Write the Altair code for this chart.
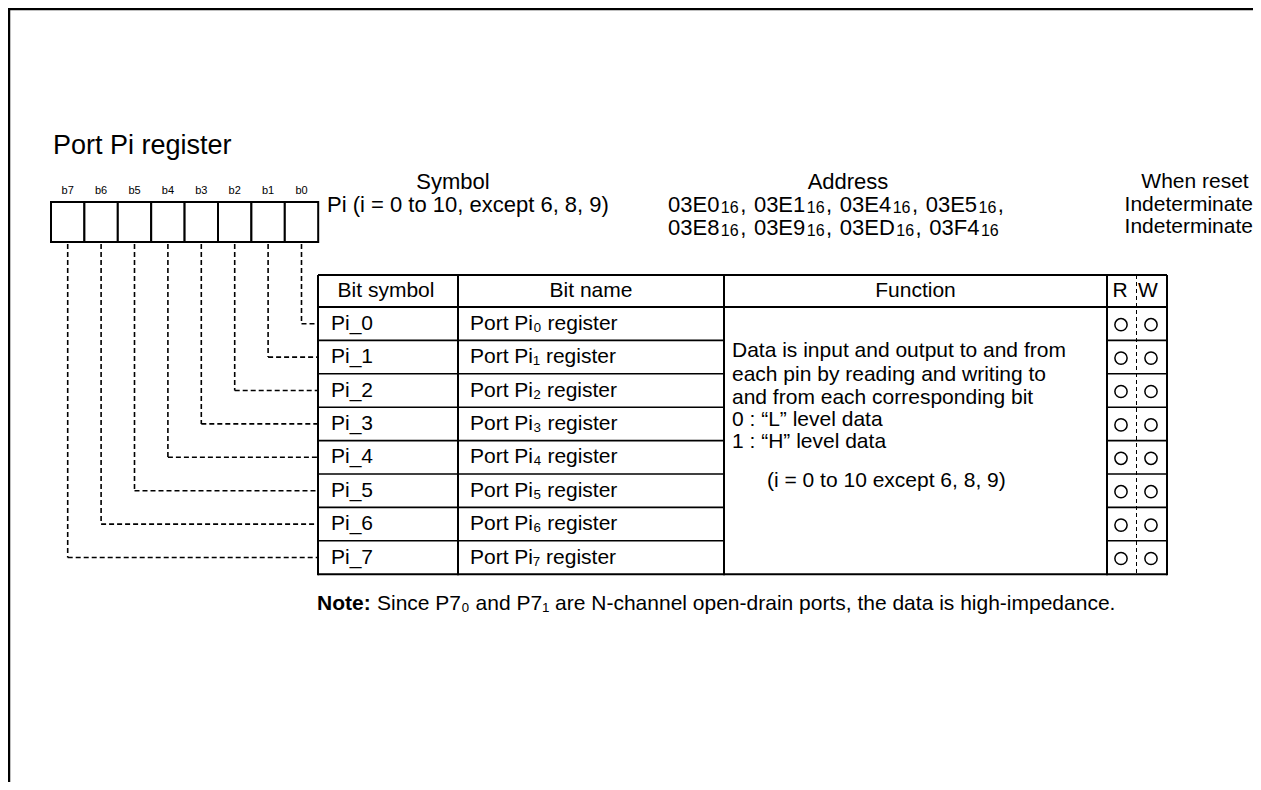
import altair as alt
import pandas as pd

# ---------------- content ----------------
TITLE = "Port Pi register"
BITS = ["b7", "b6", "b5", "b4", "b3", "b2", "b1", "b0"]
SYMBOL_LABEL = "Symbol"
SYMBOL_VALUE = "Pi (i = 0 to 10, except 6, 8, 9)"
ADDRESS_LABEL = "Address"
ADDRESS_LINE1 = ["03E0", "03E1", "03E4", "03E5"]
ADDRESS_LINE2 = ["03E8", "03E9", "03ED", "03F4"]
ADDRESS_SUFFIX = "16"
RESET_LABEL = "When reset"
RESET_VALUES = ["Indeterminate", "Indeterminate"]
HEADERS = ["Bit symbol", "Bit name", "Function", "R", "W"]
BIT_SYMBOLS = ["Pi_0", "Pi_1", "Pi_2", "Pi_3", "Pi_4", "Pi_5", "Pi_6", "Pi_7"]
BIT_NAMES = ["Port Pi₀ register", "Port Pi₁ register", "Port Pi₂ register", "Port Pi₃ register",
             "Port Pi₄ register", "Port Pi₅ register", "Port Pi₆ register", "Port Pi₇ register"]
FUNCTION_LINES = ["Data is input and output to and from",
                  "each pin by reading and writing to",
                  "and from each corresponding bit",
                  "0 : \u201cL\u201d level data",
                  "1 : \u201cH\u201d level data"]
FUNCTION_NOTE = "(i = 0 to 10 except 6, 8, 9)"
READABLE = [True, True, True, True, True, True, True, True]
WRITABLE = [True, True, True, True, True, True, True, True]
NOTE_BOLD = "Note:"
NOTE_TEXT = "Since P7₀ and P7₁ are N-channel open-drain ports, the data is high-impedance."

# ---------------- layout ----------------
W, H = 1245, 774
X0, Y0 = 8, 8
FONT = "Liberation Sans"
HEAD_SIZE = 22
SUB_SIZE = 16
GAP = 1.5

BOX_L, BOX_W, BOX_T, BOX_B = 51, 33.4, 202, 242
COLS = [318, 458, 724, 1107, 1136.5, 1167]
TAB_T, HEAD_B, ROW_H = 275, 307, 33.4
N = len(BIT_SYMBOLS)
TAB_B = HEAD_B + N * ROW_H

# Arial / Liberation Sans advance widths (per 1000 em) for address layout
ADV = {"0": 556, "1": 556, "2": 556, "3": 556, "4": 556, "5": 556, "6": 556,
       "7": 556, "8": 556, "9": 556, "E": 667, "D": 722, "F": 611, ",": 278, " ": 278}


def tw(s, size):
    return sum(ADV[c] for c in s) / 1000 * size


xs = alt.Scale(domain=[X0, X0 + W], nice=False, zero=False)
ys = alt.Scale(domain=[Y0, Y0 + H], nice=False, zero=False, reverse=True)


def XQ(f="x"):
    return alt.X(f + ":Q", scale=xs, axis=None)


def YQ(f="y"):
    return alt.Y(f + ":Q", scale=ys, axis=None)


def text_layer(rows, size, align="left", weight="normal", baseline="middle"):
    df = pd.DataFrame(rows, columns=["x", "y", "text"])
    return alt.Chart(df).mark_text(
        font=FONT, fontSize=size, align=align, baseline=baseline,
        fontWeight=weight, color="black"
    ).encode(x=XQ(), y=YQ(), text="text:N")


def line_layer(rows, width=2.0, dash=None):
    df = pd.DataFrame(rows, columns=["x", "y", "x2", "y2"])
    kw = dict(color="black", strokeWidth=width)
    if dash:
        kw["strokeDash"] = dash
    return alt.Chart(df).mark_rule(**kw).encode(
        x=XQ(), y=YQ(), x2="x2:Q", y2="y2:Q")


layers = []

# outer frame (top and left edge)
layers.append(line_layer([(X0, 9, X0 + W, 9), (9, Y0, 9, Y0 + H)], width=2.5))

# bit boxes
box_df = pd.DataFrame({
    "bit": BITS,
    "x": [BOX_L + i * BOX_W for i in range(len(BITS))],
    "x2": [BOX_L + (i + 1) * BOX_W for i in range(len(BITS))],
    "y": [BOX_T] * len(BITS),
    "y2": [BOX_B] * len(BITS),
})
layers.append(alt.Chart(box_df).mark_rect(fill="white", stroke="black", strokeWidth=2).encode(
    x=XQ(), x2="x2:Q", y=YQ(), y2="y2:Q"))

layers.append(text_layer([(BOX_L + (i + 0.5) * BOX_W, 191, b) for i, b in enumerate(BITS)], 11, "center"))

# dashed leaders from each bit to its row
lead = []
for k in range(N):
    bx = BOX_L + (len(BITS) - 1 - k + 0.5) * BOX_W
    ry = HEAD_B + (k + 0.5) * ROW_H
    lead.append((bx, BOX_B + 2, bx, ry))
    lead.append((bx, ry, COLS[0], ry))
layers.append(line_layer(lead, width=1.6, dash=[5, 3]))

# table lines
tab = [
    (COLS[0], TAB_T, COLS[-1], TAB_T),
    (COLS[0], HEAD_B, COLS[-1], HEAD_B),
    (COLS[0], TAB_B, COLS[-1], TAB_B),
]
for c in [COLS[0], COLS[1], COLS[2], COLS[3], COLS[5]]:
    tab.append((c, TAB_T, c, TAB_B + 1))
layers.append(line_layer(tab, width=2.0))
rows_l = []
for k in range(1, N):
    yy = HEAD_B + k * ROW_H
    rows_l.append((COLS[0], yy, COLS[2], yy))
    rows_l.append((COLS[3], yy, COLS[5], yy))
layers.append(line_layer(rows_l, width=1.6))
layers.append(line_layer([(COLS[4], TAB_T, COLS[4], TAB_B)], width=1.0, dash=[4, 3]))

# title and register header texts
layers.append(text_layer([(53, 146, TITLE)], 27))
layers.append(text_layer([(453, 182, SYMBOL_LABEL), (848, 182, ADDRESS_LABEL)], HEAD_SIZE, "center"))
layers.append(text_layer([(1195, 182, RESET_LABEL)], 21, "center"))
layers.append(text_layer([(327, 205, SYMBOL_VALUE)], HEAD_SIZE))
layers.append(text_layer([(1253, 205, RESET_VALUES[0]), (1253, 227, RESET_VALUES[1])], 21, "right"))

# address lines: codes with smaller "16" suffix
main_rows, sub_rows = [], []
for codes, base, last_sep in [(ADDRESS_LINE1, 212, ","), (ADDRESS_LINE2, 235, "")]:
    x = 668
    for j, code in enumerate(codes):
        sep = ", " if j < len(codes) - 1 else last_sep
        main_rows.append((x, base, code))
        x += tw(code, HEAD_SIZE) + GAP
        sub_rows.append((x, base + 1, ADDRESS_SUFFIX))
        x += tw(ADDRESS_SUFFIX, SUB_SIZE) + GAP
        if sep:
            main_rows.append((x, base, sep))
            x += tw(sep, HEAD_SIZE) + GAP
layers.append(text_layer(main_rows, HEAD_SIZE, baseline="alphabetic"))
layers.append(text_layer(sub_rows, SUB_SIZE, baseline="alphabetic"))

# table header
hx = [386, (COLS[1] + COLS[2]) / 2, (COLS[2] + COLS[3]) / 2, 1120, 1148]
layers.append(text_layer([(hx[i], 291, h) for i, h in enumerate(HEADERS)], 21, "center"))

# table rows
layers.append(text_layer([(331, HEAD_B + (k + 0.5) * ROW_H, s) for k, s in enumerate(BIT_SYMBOLS)], 21))
layers.append(text_layer([(470, HEAD_B + (k + 0.5) * ROW_H, s) for k, s in enumerate(BIT_NAMES)], 21))
fy = [351, 375, 398, 420, 442]
layers.append(text_layer([(732, fy[i], t) for i, t in enumerate(FUNCTION_LINES)], 21))
layers.append(text_layer([(767, 481, FUNCTION_NOTE)], 21))

# R / W marks
rw = []
for k in range(N):
    yy = HEAD_B + (k + 0.5) * ROW_H + 1
    if READABLE[k]:
        rw.append({"x": 1121, "y": yy})
    if WRITABLE[k]:
        rw.append({"x": 1151, "y": yy})
layers.append(alt.Chart(pd.DataFrame(rw)).mark_point(
    shape="circle", size=150, filled=False, color="black", strokeWidth=1.5, opacity=1
).encode(x=XQ(), y=YQ()))

# note
layers.append(text_layer([(317, 604, NOTE_BOLD)], 21, weight="bold"))
layers.append(text_layer([(377, 604, NOTE_TEXT)], 21))

chart = alt.layer(*layers).properties(
    width=W, height=H, padding=0, autosize=alt.AutoSizeParams(type="none")
).configure_view(stroke=None)

chart.save("out.html", embed_options={"renderer": "svg", "actions": False})
